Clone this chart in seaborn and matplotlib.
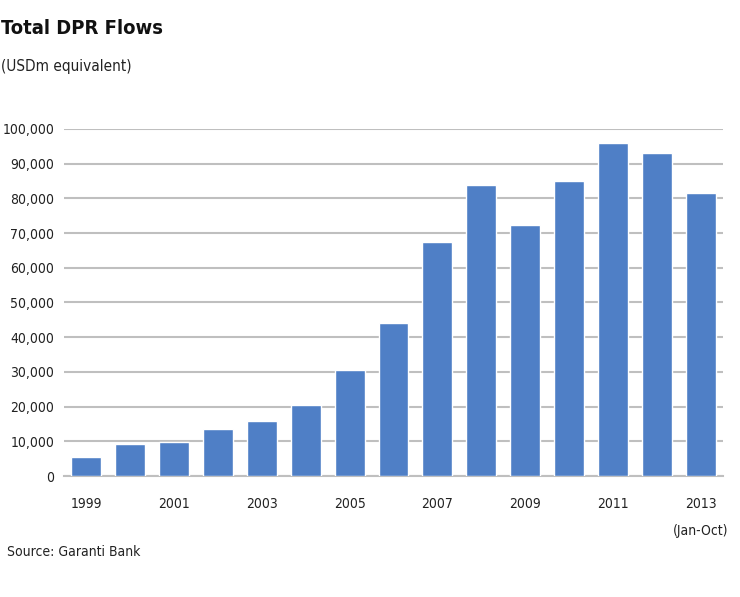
import matplotlib
matplotlib.use("Agg")
import matplotlib.pyplot as plt
import seaborn as sns
import pandas as pd

# Data (USDm equivalent)
years = [str(y) for y in range(1999, 2014)]
flows = [5600, 9200, 9900, 13500, 15900, 20500, 30500, 44000,
         67400, 83800, 72300, 84900, 95900, 93000, 81500]
tick_labels = ["1999", "", "2001", "", "2003", "", "2005", "", "2007",
               "", "2009", "", "2011", "", "2013\n(Jan-Oct)"]
y_ticks = list(range(0, 100001, 10000))

sns.set_style("white")
plt.rcParams['font.family'] = ['DejaVu Sans']
plt.rcParams['font.stretch'] = 'condensed'

df = pd.DataFrame({'year': years, 'flows': flows})

fig = plt.figure(figsize=(7.4, 5.97), dpi=100)
ax = fig.add_axes([64 / 740, 1 - 476 / 597, 659 / 740, 347 / 597])

sns.barplot(data=df, x='year', y='flows', color='#4F7FC6', width=0.68,
            saturation=1, ax=ax, zorder=3)

ax.set_ylim(0, 100000)
ax.set_xlim(-0.5, len(years) - 0.5)
ax.set_yticks(y_ticks)
ax.set_yticklabels([f'{v:,}' for v in y_ticks])
ax.set_xticks(range(len(years)))
ax.set_xticklabels(tick_labels, linespacing=2.2)
ax.yaxis.grid(True, color='#BFBFBF', linewidth=1.5, zorder=0)
ax.set_axisbelow(True)
for s in ['top', 'right', 'left']:
    ax.spines[s].set_visible(False)
ax.spines['bottom'].set_color('#BFBFBF')
ax.spines['bottom'].set_linewidth(1.5)
ax.tick_params(axis='both', length=0, labelsize=10, colors='#222222')
ax.tick_params(axis='x', pad=15)
ax.tick_params(axis='y', pad=7)
ax.set_xlabel('')
ax.set_ylabel('')

fig.text(1 / 740, 1 - 28 / 597, 'Total DPR Flows', fontsize=14.5, fontweight='bold',
         va='center', ha='left', color='#111111')
fig.text(1 / 740, 1 - 66 / 597, '(USDm equivalent)', fontsize=11,
         va='center', ha='left', color='#222222')
fig.text(7 / 740, 1 - 552 / 597, 'Source: Garanti Bank', fontsize=10,
         va='center', ha='left', color='#222222')

plt.savefig('out.png', dpi=100)
plt.close()
